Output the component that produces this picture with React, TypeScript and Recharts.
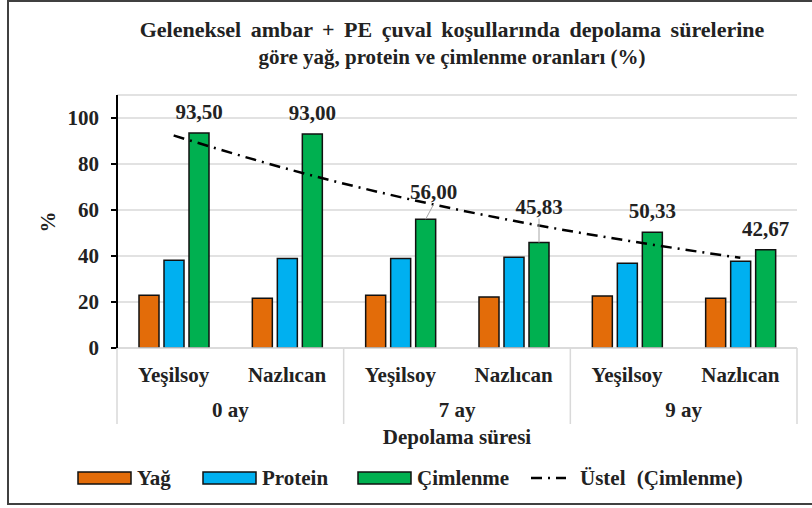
import { ComposedChart, Bar, Line, XAxis, YAxis, CartesianGrid, LabelList } from 'recharts';

const categories = ['Yeşilsoy', 'Nazlıcan', 'Yeşilsoy', 'Nazlıcan', 'Yeşilsoy', 'Nazlıcan'];
const periods = ['0 ay', '7 ay', '9 ay'];
const yag = [22.9, 21.6, 22.9, 22.2, 22.6, 21.6];
const protein = [38.2, 38.9, 38.9, 39.5, 36.9, 37.7];
const cimlenme = [93.5, 93.0, 56.0, 45.83, 50.33, 42.67];
// exponential trend (Üstel)
const trend = [92.4, 77.9, 65.6, 55.3, 46.7, 39.2];
const yTicks = [0, 20, 40, 60, 80, 100];

const data = categories.map((name, i) => ({
  name,
  yag: yag[i],
  protein: protein[i],
  cimlenme: cimlenme[i],
  trend: trend[i],
}));

const FONT = '"Liberation Serif", "Times New Roman", serif';
const ORANGE = '#E36C09';
const BLUE = '#00B0F0';
const GREEN = '#00B050';
const GRID = '#d9d9d9';

const PLOT_LEFT = 117;
const PLOT_RIGHT = 797;
const PLOT_BOTTOM = 348;
const CAT_W = (PLOT_RIGHT - PLOT_LEFT) / categories.length;

const fmt = (v: number) => v.toFixed(2).replace('.', ',');

const CategoryTick = ({ x, payload, index }: any) => (
  <g>
    <text x={x} y={382} textAnchor="middle" fontFamily={FONT} fontWeight="bold" fontSize={21} fill="#222">
      {payload.value}
    </text>
    {index % 2 === 0 && (
      <>
        <line x1={x - CAT_W / 2} x2={x - CAT_W / 2} y1={PLOT_BOTTOM} y2={424} stroke={GRID} strokeWidth={1.5} />
        <text x={x + CAT_W / 2} y={417} textAnchor="middle" fontFamily={FONT} fontWeight="bold" fontSize={21} fill="#222">
          {periods[index / 2]}
        </text>
      </>
    )}
    {index === categories.length - 1 && (
      <line x1={x + CAT_W / 2} x2={x + CAT_W / 2} y1={PLOT_BOTTOM} y2={424} stroke={GRID} strokeWidth={1.5} />
    )}
  </g>
);

const ValueLabel = (props: any) => {
  const { x, y, width, value, index } = props;
  const cx = x + width / 2;
  let dx = 0;
  let lift = 14;
  let leader = false;
  if (index === 2) { dx = 8; lift = 20; leader = true; }
  if (index === 3) { lift = 29; leader = true; }
  return (
    <g>
      {leader && (
        <line x1={cx} y1={y} x2={cx + dx} y2={y - lift + 5} stroke="#a6a6a6" strokeWidth={1} />
      )}
      <text x={cx + dx} y={y - lift} textAnchor="middle" fontFamily={FONT} fontWeight="bold" fontSize={21} fill="#222">
        {fmt(value)}
      </text>
    </g>
  );
};

const legendItems = [
  { color: ORANGE, label: 'Yağ', x: 78 },
  { color: BLUE, label: 'Protein', x: 203 },
  { color: GREEN, label: 'Çimlenme', x: 358 },
];

export default function App() {
  return (
    <div style={{ position: 'absolute', left: 0, top: 0, width: 812, height: 508, background: '#fff' }}>
      <ComposedChart
        width={812}
        height={508}
        data={data}
        margin={{ top: 95, right: 812 - PLOT_RIGHT, bottom: 84, left: 0 }}
        barSize={20}
        barGap={5}
      >
        <CartesianGrid vertical={false} stroke={GRID} strokeWidth={1.5} />
        <XAxis
          dataKey="name"
          interval={0}
          height={76}
          axisLine={{ stroke: GRID, strokeWidth: 1.5 }}
          tickLine={false}
          tick={<CategoryTick />}
        />
        <YAxis
          width={PLOT_LEFT}
          domain={[0, 110]}
          ticks={yTicks}
          allowDataOverflow
          axisLine={{ stroke: '#000', strokeWidth: 2 }}
          tickLine={{ stroke: '#000', strokeWidth: 2 }}
          tickSize={6}
          tickMargin={12}
          tick={{ fontFamily: FONT, fontWeight: 'bold', fontSize: 21, fill: '#222' }}
        />
        <Bar dataKey="yag" fill={ORANGE} stroke="#111" strokeWidth={1.5} isAnimationActive={false} />
        <Bar dataKey="protein" fill={BLUE} stroke="#111" strokeWidth={1.5} isAnimationActive={false} />
        <Bar dataKey="cimlenme" fill={GREEN} stroke="#111" strokeWidth={1.5} isAnimationActive={false}>
          <LabelList dataKey="cimlenme" content={<ValueLabel />} />
        </Bar>
        <Line
          dataKey="trend"
          type="monotone"
          stroke="#000"
          strokeWidth={2.5}
          strokeDasharray="11 6 2 6"
          dot={false}
          activeDot={false}
          isAnimationActive={false}
        />
      </ComposedChart>

      <svg width={812} height={508} style={{ position: 'absolute', left: 0, top: 0, pointerEvents: 'none' }}>
        <path d="M 812 1 H 8 V 504 H 812" fill="none" stroke="#404040" strokeWidth={2} />
        <text x={452} y={37} textAnchor="middle" fontFamily={FONT} fontWeight="bold" fontSize={22} wordSpacing={4} fill="#222">
          Geleneksel ambar + PE çuval koşullarında depolama sürelerine
        </text>
        <text x={452} y={64} textAnchor="middle" fontFamily={FONT} fontWeight="bold" fontSize={21} fill="#222">
          göre yağ, protein ve çimlenme oranları (%)
        </text>
        <text
          x={48}
          y={222}
          transform="rotate(-90 48 222)"
          textAnchor="middle"
          dominantBaseline="central"
          fontFamily={FONT}
          fontWeight="bold"
          fontSize={21}
          fill="#222"
        >
          %
        </text>
        <text x={457} y={444} textAnchor="middle" fontFamily={FONT} fontWeight="bold" fontSize={21} fill="#222">
          Depolama süresi
        </text>
        {legendItems.map((it) => (
          <g key={it.label}>
            <rect x={it.x} y={472} width={53} height={12} fill={it.color} stroke="#111" strokeWidth={1.5} />
            <text x={it.x + 59} y={485} fontFamily={FONT} fontWeight="bold" fontSize={21} fill="#222">
              {it.label}
            </text>
          </g>
        ))}
        <line x1={531} x2={566} y1={478} y2={478} stroke="#000" strokeWidth={2.5} strokeDasharray="11 6 2 6" />
        <text x={580} y={485} fontFamily={FONT} fontWeight="bold" fontSize={21} wordSpacing={6} fill="#222">
          Üstel (Çimlenme)
        </text>
      </svg>
    </div>
  );
}
